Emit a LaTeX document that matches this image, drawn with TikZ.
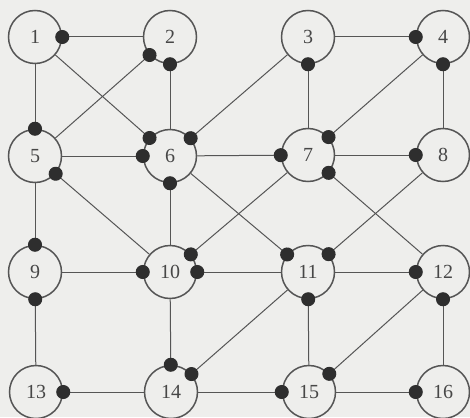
\documentclass[tikz,border=0pt]{standalone}
\usepackage{fontspec}
\setmainfont{Liberation Serif}
\usetikzlibrary{arrows.meta}
\definecolor{bg}{HTML}{EEEEEC}
\definecolor{ln}{HTML}{555555}
\definecolor{dt}{HTML}{2E2E2E}
\begin{document}
\begin{tikzpicture}[x=1pt,y=-1pt,
  vert/.style={circle,draw=ln,line width=1.5pt,fill=bg,minimum size=53pt,inner sep=0pt,font=\fontsize{20}{20}\selectfont,text=black!72},
  edge/.style={draw=ln,line width=1pt},
  hd/.style={edge,-{Circle[length=14pt,color=dt]},shorten >=-7pt}]
\fill[bg] (0,0) rectangle (470,417);
\useasboundingbox (0,0) rectangle (470,417);
\node[vert] (n1) at (35,37) {1};
\node[vert] (n2) at (170,37) {2};
\node[vert] (n3) at (308,37) {3};
\node[vert] (n4) at (443,37) {4};
\node[vert] (n5) at (35,156) {5};
\node[vert] (n6) at (170,156) {6};
\node[vert] (n7) at (308,155) {7};
\node[vert] (n8) at (443,155) {8};
\node[vert] (n9) at (35,272) {9};
\node[vert] (n10) at (170,272) {10};
\node[vert] (n11) at (308,272) {11};
\node[vert] (n12) at (443,272) {12};
\node[vert] (n13) at (36,392) {13};
\node[vert] (n14) at (171,392) {14};
\node[vert] (n15) at (309,392) {15};
\node[vert] (n16) at (443,392) {16};
% edges: (from) -> (to, dot end)
\draw[hd] (n2) -- (n1);
\draw[hd] (n1) -- (n5);
\draw[hd] (n1) -- (n6);
\draw[hd] (n5) -- (n2);
\draw[hd] (n6) -- (n2);
\draw[hd] (n5) -- (n6);
\draw[hd] (n3) -- (n6);
\draw[hd] (n6) -- (n7);
\draw[hd] (n10) -- (n6);
\draw[hd] (n5) -- (n9);
\draw[hd] (n10) -- (n5);
\draw[hd] (n6) -- (n11);
\draw[hd] (n3) -- (n4);
\draw[hd] (n7) -- (n3);
\draw[hd] (n4) -- (n7);
\draw[hd] (n8) -- (n4);
\draw[hd] (n7) -- (n8);
\draw[hd] (n7) -- (n10);
\draw[hd] (n12) -- (n7);
\draw[hd] (n8) -- (n11);
\draw[hd] (n9) -- (n10);
\draw[hd] (n13) -- (n9);
\draw[hd] (n11) -- (n10);
\draw[hd] (n10) -- (n14);
\draw[hd] (n11) -- (n12);
\draw[hd] (n11) -- (n14);
\draw[hd] (n15) -- (n11);
\draw[hd] (n12) -- (n15);
\draw[hd] (n16) -- (n12);
\draw[hd] (n14) -- (n13);
\draw[hd] (n14) -- (n15);
\draw[hd] (n15) -- (n16);
\end{tikzpicture}
\end{document}
